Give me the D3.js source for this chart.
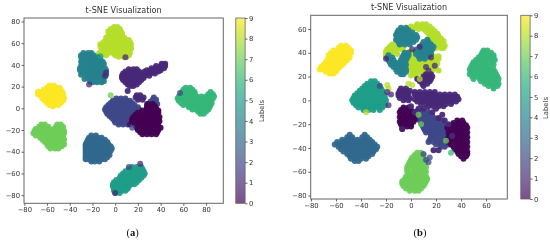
<!DOCTYPE html>
<html>
<head>
<meta charset="utf-8">
<script src="https://d3js.org/d3.v7.min.js"></script>
<style>
  html, body { margin: 0; padding: 0; background: #fff; }
  svg { display: block; filter: blur(0.4px); }
  text { font-family: "DejaVu Sans", sans-serif; fill: #333; }
  .caption { font-family: "Liberation Serif", serif; font-size: 10.5px; fill: #111; }
</style>
</head>
<body>
<div id="chart"></div>
<script>
var tickLabels = d3.range(-80, 81, 20);
var barTicks = [0, 1, 2, 3, 4, 5, 6, 7, 8, 9];

// cluster points are read row by row: [y, x, x, x ...]
// panel (a)
var a9 = [[21,-58,-54],[19,-60,-56,-52,-49],[17,-63,-59,-55,-51,-48],[15,-68,-65,-61,-57,-53,-49,-46.5],[13,-68,-64,-60,-56,-52,-48,-46],[11,-65,-62,-58,-54,-50,-46],[9,-64,-60,-56,-52,-48,-45],[7,-62,-58,-54,-50,-46],[5,-60,-56,-52,-48],[3,-58,-54,-50],[2,-55]];
var a8 = [[75,-1,2],[73,-4,0,4],[71,-6,-2,2,5],[69,-5,-1,3,6],[67,-6,-2,2,6],[65,-8,-4,0,4,8],[63,-7,-3,1,5,9,12],[61,-10,-6,-2,2,6,10,13],[59,-13,-9,-5,-1,3,7,11,14],[57,-13,-9,-5,-2,2,5,9,13],[55,-10,-6,-2,2,6,10,14],[53,-12,-8,-4,0,4,8,12],[51,-14,-10,-6,-2,2,6,10,13],[49,-15,-12,-8,0,4,8,12],[47.5,3,7,10]];
var a7 = [[-15,-65,-62,-51,-48],[-17,-67,-63,-59,-52,-49,-46],[-19,-70,-66,-62,-58,-54,-50,-46],[-21,-71,-68,-64,-60,-56,-52,-48,-45],[-23,-72,-68,-64,-60,-56,-52,-48,-45],[-25,-70,-66,-62,-58,-54,-50,-46],[-27,-66,-62,-58,-54,-50,-46],[-29,-64,-60,-56,-52,-48,-45],[-31,-62,-58,-54,-50,-46],[-33,-60,-56,-52,-48,-45],[-35,-59,-55,-51,-47],[-37,-57,-53,-50]];
var a6 = [[19,62,66],[17,60,64,68],[15,59,63,67,70,84],[13,58,62,66,70,82,86],[11,56,60,64,68,72,76,80,84,87],[9,55,58,62,66,70,74,78,82,86],[7,56,60,64,68,72,76,80,84],[5,58,62,66,70,74,78,82,85],[3,60,64,68,72,76,80,84],[1,65,69,73,77,81,83],[-1,68,71,75,79,82],[-3,73,77,80],[-5,75,78]];
var a5 = [[-54,15,19,23],[-56,12,16,20,24],[-58,9,13,17,21,25],[-60,7,11,15,19,23,26],[-62,5,9,13,17,21,25],[-64,4,7,11,15,19,23],[-66,1,5,9,13,17,21],[-68,-1,3,7,11,15,19],[-70,-2,2,6,10,14,17],[-72,-2,1,4,8,12],[-74,-1,3,7,11],[-76,-1,2,6,9],[-78,0,4]];
var a4 = [[51,-28,-24,-21],[49,-30,-26,-22,-19],[47,-30,-27,-23,-19,-15],[45,-29,-25,-21,-17,-13],[43,-30,-26,-22,-18,-14,-11],[41,-29,-25,-21,-17,-13,-10],[39,-30,-27,-23,-19,-15,-11],[37,-31,-29,-25,-21,-17,-13,-9],[35,-31,-27,-23,-19,-15,-11,-8],[33,-29,-25,-21,-17,-13,-9],[31,-30,-27,-23,-19,-15,-11,-8],[29,-25,-21,-17,-13,-9],[27,-27,-23,-19,-15,-11],[25,-22,-18,-14,-10],[24,-20,-16,-12]];
var a3 = [[-25,-21,-17],[-27,-23,-19,-15,-12],[-29,-24,-20,-16,-12,-9],[-31,-25,-22,-18,-14,-10,-7],[-33,-26,-22,-18,-14,-10,-6],[-35,-26,-23,-19,-15,-11,-7,-4],[-37,-26,-22,-18,-14,-10,-6,-3],[-39,-26,-24,-20,-16,-12,-8,-4],[-41,-26,-22,-18,-14,-10,-6],[-43,-26,-24,-20,-16,-12,-8,-5],[-45,-26,-22,-18,-14,-10,-7],[-47,-26,-24,-20,-16,-12,-9],[-49,-21,-18,-14]];
var a2 = [[9,1,5,9],[7,-2,2,6,10,13],[5,-4,0,4,8,12,15],[3,-6,-2,2,6,10,14,17],[1,-8,-4,0,4,8,12,16,20],[-1,-9,-6,-2,2,6,10,14,18,21],[-3,-8,-4,0,4,8,12,16,20],[-5,-7,-2,2,6,10,14,18],[-7,-5,-1,3,7,11,15],[-9,-3,1,5,9,13],[-11,-1,3,7,11,14],[-13,0,4,8,12],[-15,3,7,11],[10,34],[8,33,36],[6,31,35],[4,28,32,37]];
var a1 = [[41,41,44],[39,36,40,44],[37,32,36,40,43],[36,12,16,19],[35,28,32,36,40],[34,9,13,17,21,26,30,34,38],[32,7,11,15,19,23,27,31,35],[30,6,10,14,18,22,26,30],[28,6,9,13,17,21,25],[26,7,11,15,19,23],[24,9,13,17,21],[22,11,15,19],[20.5,13,16],[16,11],[12,19,22],[10,18,21,25],[8,20,24]];
var a0 = [[4,29,33],[2,28,31,35],[0,28,32,36],[-2,24,28,32,36,38],[-4,20,26,30,34,38],[-6,18,22,26,30,34,37],[-8,16,20,24,28,32,36,39],[-10,15,18,22,26,30,34,38],[-12,15,19,23,27,31,35,39],[-14,17,21,25,29,33,37],[-16,18,23,27,31,35,38],[-18,19,25,29,33,37,40],[-20,20,23,27,31,35,38],[-22,22,26,30,34,37],[-24,24,28,32,36]];
var aStray = [[-4,12,7],[57,14,2],[22,-51,1],[12,-54,2],[0,-78,1],[-8,33,1],[-9,30,1],[-23,22,1],[-13,48,5],[9,47,1],[13,-15,0],[15,-18,2]];
var aOrder = [[9,a9],[8,a8],[7,a7],[6,a6],[5,a5],[4,a4],[3,a3],[2,a2],[1,a1],[0,a0]];

// panel (b)
var b9 = [[46,-56,-52],[44,-58,-54,-50],[42,-62,-58,-54,-50,-48],[40,-64,-60,-56,-52,-48],[38,-66,-62,-58,-54,-50],[36,-64,-60,-56,-52,-49],[34,-67,-63,-59,-55,-51],[32,-68,-65,-61,-57,-53],[30,-70,-67,-63,-59,-55],[28,-72,-69,-65,-61,-57],[26,-73,-70,-66,-62,-59],[24,-68,-64,-60],[22.5,-65,-62]];
var b8 = [[64,5,9,12],[62,0,4,8,12,15],[60,-2,2,6,10,14,17],[58,12,16,19],[56,14,18,21],[54,15,19,22],[52,17,21,24],[50,16,20,24,26],[48,18,22,25],[47,-15,-11,-7],[46,20,24,27],[45,-17,-13,-9,-6],[44,20,24,26],[43,-19,-15,-11,-7],[41,-20,-16,-12,-1,3],[39,-20,-16,-11,0,4],[37,-20,-2,2,6,18,22],[35,-4,0,4,8,14,18,22],[33,-4,0,4,8,12,16,20],[31,-3,1,5,9,13,17,21],[29,-4,0,4,8,12,16,20],[27,-1,3,7,11,15,19],[25,-3,1,5,9,13,17,22],[23,2,6,10],[21,0,4]];
var b7 = [[-44,5,8],[-46,3,7,10],[-48,1,5,9],[-50,0,4,8,10],[-52,-1,3,7,11],[-54,-2,2,6,10],[-56,-3,1,5,9,12],[-58,-3,3,7,11],[-60,-3,1,5,9,12],[-62,-2,3,7,11],[-64,-4,0,4,8,12],[-66,-5,-2,2,6,10,13],[-68,-7,-3,1,5,9,12],[-70,-7,-4,0,4,8,11],[-72,-6,-2,2,6,10],[-74,-4,0,4,8],[-76,-1,3,6]];
var b6 = [[42,58,61],[40,57,61,64],[38,56,60,64,66],[36,54,58,62,66],[34,52,56,60,64,67],[32,50,54,58,62,65],[30,49,52,56,60,66],[28,48,51,55,59,63],[26,47,50,54,58,62,66],[24,48,52,56,60,64,67],[22,47,50,54,58,62,66,68],[20,49,53,57,61,65,69],[18,50,55,59,63,67,70],[16,56,60,64,68],[14,59,63,67,70],[12,62,66,69],[10,66]];
var b5 = [[16,-32,-29],[14,-35,-31,-27],[12,-37,-33,-29,-25],[10,-39,-35,-31,-27,-24],[8,-41,-37,-33,-29,-25,-23],[6,-43,-39,-35,-31,-27,-23],[4,-45,-41,-37,-33,-29,-25,-21],[2,-46,-43,-39,-35,-31,-27,-23,-21],[0,-47,-44,-40,-36,-32,-28,-24,-20],[-2,-46,-42,-38,-34,-30,-26,-22],[-4,-44,-40,-36,-32,-28,-24,-21],[-6,-42,-38,-34,-30,-26,-23],[-8,-38,-34,-30,-25]];
var b4 = [[61,-8,-4],[59,-10,-6,-2],[57,-11,-7,-3,1],[55,-12,-8,-4,0,4],[53,-11,-7,-3,1,5],[51,-12,-8,-4,0,4,13],[49,-10,-6,-2,2,10,14],[47,-9,-5,-1,9,13,16],[45,7,11,15,18],[43,5,9,13,17],[41,4,8,12,16],[40,-5,-2],[39,4,8,12,16],[38,-18,-6,-2],[37,6,10,14],[36,-19,-15,-7,-3],[35,7,11],[34,-18,-14,-8,-4],[32,-17,-13,-9,-5],[30,-16,-12,-8,-4],[28,-14,-10,-6],[26,-12,-8,-4],[24,-11,-7,-4],[22,-8,-6]];
var b3 = [[-29,-49,-37],[-31,-51,-47,-39,-35],[-33,-55,-51,-47,-43,-39,-35,-33],[-35,-59,-55,-51,-47,-43,-39,-35,-31],[-37,-61,-57,-53,-49,-45,-41,-37,-33,-29],[-39,-58,-54,-50,-46,-42,-38,-34,-30,-27],[-41,-56,-52,-48,-44,-40,-36,-32,-28],[-43,-54,-50,-46,-42,-38,-34,-30],[-45,-51,-47,-43,-39,-35,-31],[-47,-49,-45,-41,-37,-34],[-49,-48,-44,-40,-36],[-51,-45,-42]];
var b2 = [[-9,5,9,13],[-11,6,10,14],[-13,5,9,13,17],[-15,6,11,15,19,22],[-17,7,10,14,18,22,25],[-19,8,12,16,20,24],[-21,9,13,17,21,25,28],[-23,10,15,19,23,27],[-25,11,13,17,21,25,29],[-27,12,15,19,23,27,30],[-29,16,20,24,28,31],[-31,16,18,22,26,30],[-33,15,20,24,28,31],[-35,14,18,22,26,30],[-37,20,24,27,30],[-39,24,27]];
var b1 = [[22,12,16],[20,10,14,17],[18,5,9,13,16],[16,7,11,15],[14,9,13],[12,10],[10,-8,-4],[8,-9,-5,-1],[7,3,7,11,15,19],[6,-10,-6,-2],[5,3,7,11,15,19,23,27,31,35],[4,-10,-6,-3],[3,5,9,13,17,21,25,29,33,37],[2,-9,-5,-1],[1,3,7,11,15,19,23,27,31,35,38],[0,-6,-2],[-1,5,9,13,17,21,25,29,33,36],[-3,8,12,16,20,24,28,32],[-5,14,18,22,26,0],[-7,6,10,20],[-10,17,3],[-12,25],[-15,22],[-17,27],[-20,30],[-30,33],[-42,18,22]];
var b0L = [[-6,-6,-2],[-8,-8,-4,0],[-10,-9,-5,-1,2],[-12,-8,-4,0,3],[-14,-9,-5,-1,2],[-16,-8,-4,0,3],[-18,-9,-5,-1,2],[-20,-8,-4,0],[-22,-7,-3,0],[-24,-7]];
var b0R = [[-17,37,41],[-19,34,38,42],[-21,32,36,40,44],[-23,29,34,38,42,45],[-25,32,36,40,44],[-27,30,34,38,42,45],[-29,32,36,40,44],[-31,30,34,38,42,45],[-33,32,36,40,44],[-35,30,34,38,42,45],[-37,32,36,40,44],[-39,34,38,42,45],[-41,35,39,43],[-43,37,41,45],[-45,38,42,45],[-47,40,44],[-49,42]];
var bStray = [[1,43,1],[7,45,1],[16,36,1],[12,28,1],[14,25,1],[19,29,1],[-20,35,1],[8,-20,7],[6,-12,7],[28,-34,7],[32,-44,6],[-2,14,8],[1,13,8],[7,18,8],[-36,-10,8],[-19,13,8],[-18,10,8],[-19,7,1],[-16,5,1],[-18,-4,1],[-25,12,2],[10,-45,2],[12,-50,2],[14,-52,2],[15,-48,2],[-7,-24,1]];
var bOrder = [[9,b9],[8,b8],[7,b7],[6,b6],[5,b5],[4,b4],[3,b3],[2,b2],[0,b0L],[0,b0R],[1,b1]];

var width = 550, height = 241;
var color = d3.scaleSequential(d3.interpolateViridis).domain([0, 9]);

var svg = d3.select("#chart").append("svg")
  .attr("width", width)
  .attr("height", height);

var defs = svg.append("defs");
var grad = defs.append("linearGradient")
  .attr("id", "viridisBar")
  .attr("x1", 0).attr("y1", 1).attr("x2", 0).attr("y2", 0);
d3.range(0, 9.01, 0.5).forEach(function(v) {
  grad.append("stop")
    .attr("offset", (v / 9 * 100) + "%")
    .attr("stop-color", color(v));
});

function flatten(order) {
  var pts = [];
  order.forEach(function(series) {
    series[1].forEach(function(row) {
      row.slice(1).forEach(function(x) {
        pts.push({x: x, y: row[0], label: series[0], alpha: 0.95});
      });
    });
  });
  return pts;
}

function styleAxis(g) {
  g.selectAll("text").style("font-size", "6.8px");
  g.selectAll("line, path").attr("stroke", "#444").attr("stroke-width", 0.8);
}

function drawPanel(p) {
  var x = d3.scaleLinear().domain(p.xDomain).range(p.xRange);
  var y = d3.scaleLinear().domain(p.yDomain).range(p.yRange);
  var g = svg.append("g");

  // strays sit on top of the clusters and keep the plot's lighter alpha
  var pts = flatten(p.order).concat(p.stray.map(function(d) {
    return {x: d[0], y: d[1], label: d[2], alpha: 0.75};
  }));

  g.selectAll(".dot")
    .data(pts)
    .enter()
    .append("circle")
    .attr("class", "dot")
    .attr("r", 3)
    .attr("cx", d => x(d.x))
    .attr("cy", d => y(d.y))
    .style("fill", d => color(d.label))
    .style("opacity", d => d.alpha);

  g.append("rect")
    .attr("x", p.xRange[0])
    .attr("y", p.yRange[1])
    .attr("width", p.xRange[1] - p.xRange[0])
    .attr("height", p.yRange[0] - p.yRange[1])
    .attr("fill", "none")
    .attr("stroke", "#666")
    .attr("stroke-width", 1);

  g.append("g")
    .attr("transform", "translate(0," + p.yRange[0] + ")")
    .call(d3.axisBottom(x).tickValues(p.xTicks).tickSize(2.5).tickPadding(1.5).tickSizeOuter(0))
    .call(styleAxis)
    .select(".domain").remove();

  g.append("g")
    .attr("transform", "translate(" + p.xRange[0] + ",0)")
    .call(d3.axisLeft(y).tickValues(p.yTicks).tickSize(2.5).tickPadding(1.5).tickSizeOuter(0))
    .call(styleAxis)
    .select(".domain").remove();

  g.append("text")
    .attr("x", (p.xRange[0] + p.xRange[1]) / 2)
    .attr("y", p.yRange[1] - 5)
    .attr("text-anchor", "middle")
    .style("font-size", "8.1px")
    .text("t-SNE Visualization");

  // colorbar
  var bar = d3.scaleLinear().domain([0, 9]).range([p.yRange[0], p.yRange[1]]);
  g.append("rect")
    .attr("x", p.barX)
    .attr("y", p.yRange[1])
    .attr("width", 9.3)
    .attr("height", p.yRange[0] - p.yRange[1])
    .attr("fill", "url(#viridisBar)")
    .attr("opacity", 0.7);
  g.append("rect")
    .attr("x", p.barX)
    .attr("y", p.yRange[1])
    .attr("width", 9.3)
    .attr("height", p.yRange[0] - p.yRange[1])
    .attr("fill", "none")
    .attr("stroke", "#666")
    .attr("stroke-width", 0.8);
  g.append("g")
    .attr("transform", "translate(" + (p.barX + 9.3) + ",0)")
    .call(d3.axisRight(bar).tickValues(barTicks).tickSize(2.5).tickPadding(1.5).tickSizeOuter(0).tickFormat(d3.format("d")))
    .call(styleAxis)
    .select(".domain").remove();
  g.append("text")
    .attr("transform", "translate(" + p.labelX + "," + p.labelY + ") rotate(-90)")
    .attr("text-anchor", "middle")
    .style("font-size", "6.8px")
    .text("Labels");

  // caption, only the letter is bold
  var cap = g.append("text")
    .attr("class", "caption")
    .attr("x", p.capX)
    .attr("y", 235.5)
    .attr("text-anchor", "middle");
  cap.append("tspan").text("(");
  cap.append("tspan").style("font-weight", "bold").text(p.letter);
  cap.append("tspan").text(")");
}

drawPanel({
  order: aOrder, stray: aStray, letter: "a",
  xDomain: [-80.3, 95.2], xRange: [24, 223.3],
  yDomain: [-87.5, 83.2], yRange: [203.3, 18],
  xTicks: tickLabels, yTicks: tickLabels,
  barX: 235.8, labelX: 264, labelY: 111, capX: 132.7
});

drawPanel({
  order: bOrder, stray: bStray, letter: "b",
  xDomain: [-80.2, 77], xRange: [310.7, 507.3],
  yDomain: [-82.9, 71.5], yRange: [199, 15.3],
  xTicks: d3.range(-80, 61, 20), yTicks: d3.range(-80, 61, 20),
  barX: 520.8, labelX: 548, labelY: 108, capX: 420
});
</script>
</body>
</html>
